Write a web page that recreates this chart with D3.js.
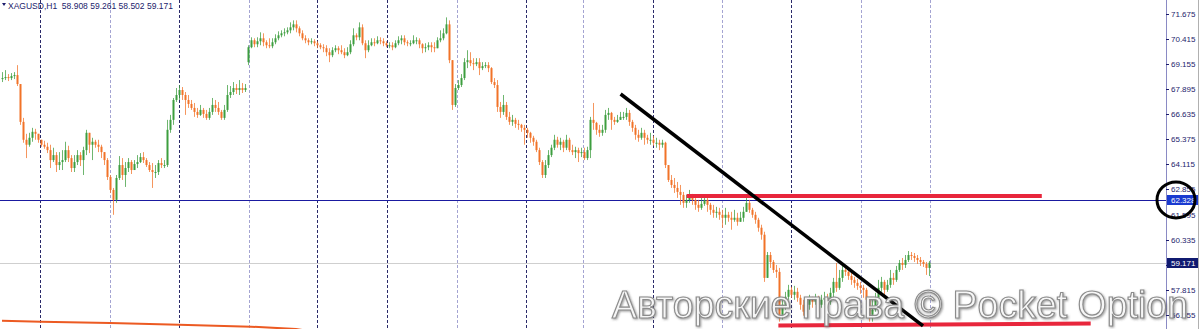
<!DOCTYPE html>
<html lang="en">
<head>
<meta charset="UTF-8">
<title>XAGUSD H1</title>
<script src="https://d3js.org/d3.v7.min.js"></script>
<style>
    body { margin: 0; padding: 0; background: #fff; }
    svg { display: block; }
    .axis-label { font-family: 'Liberation Sans', Arial, sans-serif; font-size: 8px; fill: #1c1c6c; }
</style>
</head>
<body>
<svg id="chart" width="1200" height="329"></svg>
<script>
// OHLC (open = previous close unless overridden)
const closeP = [
    68.45,68.50,68.45,68.55,68.60,68.15,66.25,65.35,65.10,65.45,
    65.75,65.65,65.35,65.10,65.00,64.83,64.33,64.58,64.08,64.23,
    64.33,64.83,64.43,63.93,64.23,64.58,64.33,64.83,65.70,65.10,
    65.25,65.10,65.00,64.73,64.33,63.48,62.83,62.33,63.43,64.08,
    63.58,63.93,64.23,63.83,64.13,64.23,64.48,64.33,64.08,63.83,
    63.73,63.73,64.18,64.08,64.08,65.85,66.35,67.35,67.60,67.85,
    67.60,67.35,67.15,66.95,66.75,66.60,66.85,66.65,66.45,66.75,
    67.10,66.95,66.75,66.45,66.85,67.60,67.75,67.95,67.85,67.95,
    67.85,67.95,70.00,70.35,70.15,70.30,70.45,70.25,70.10,70.05,
    70.25,70.45,70.60,70.70,70.75,70.85,71.00,71.15,70.95,70.70,
    70.45,70.35,70.25,70.30,70.20,70.10,70.00,69.95,69.75,69.60,
    69.85,69.95,69.85,69.75,69.60,69.75,70.15,70.60,70.50,71.00,
    70.20,69.85,70.10,70.25,70.20,70.35,70.30,70.20,70.10,70.10,
    70.00,70.20,70.35,70.45,70.25,70.20,70.20,70.35,70.35,70.15,
    69.95,70.00,70.10,70.00,69.95,70.35,70.45,70.70,71.15,69.35,
    67.10,67.95,68.10,68.45,69.25,69.35,69.20,69.15,69.25,68.95,
    69.05,69.10,68.95,68.25,68.10,67.00,66.75,67.10,66.50,66.25,
    66.35,66.15,66.10,65.95,65.85,65.70,65.45,65.25,64.83,64.23,
    63.58,64.08,64.58,64.95,65.35,65.10,65.25,64.95,65.35,64.83,
    64.73,64.83,64.68,64.73,64.43,64.83,66.35,66.20,65.85,65.70,
    65.85,66.60,66.70,66.35,66.25,66.35,66.50,66.50,66.70,66.25,
    65.95,65.60,65.45,65.70,65.45,65.35,65.35,65.20,65.20,65.10,
    65.20,64.08,63.33,63.08,62.93,62.73,62.58,62.18,62.33,62.48,
    62.33,62.08,61.93,62.13,62.33,62.08,61.83,61.68,61.73,61.58,
    61.43,61.58,61.43,61.33,61.43,61.23,61.43,61.73,62.18,61.83,
    61.58,61.33,60.93,60.58,58.41,59.56,59.21,58.81,58.71,56.56,
    57.06,57.46,57.81,57.56,57.71,57.41,57.06,56.71,57.06,57.31,
    57.21,57.41,57.06,57.31,57.41,57.21,57.66,58.21,57.91,58.41,
    58.81,58.71,58.51,58.31,58.16,58.01,57.91,57.81,57.31,56.56,
    56.81,57.41,57.91,58.21,57.81,58.06,58.41,58.31,58.81,59.16,
    59.06,59.31,59.56,59.51,59.41,59.31,59.21,59.11,58.91,59.171
];
const highP = [
    68.75,68.85,68.65,68.70,68.75,69.10,68.15,66.45,65.65,65.70,
    65.95,65.90,65.60,65.35,65.30,65.20,65.10,64.95,64.73,64.73,
    64.83,65.25,65.05,64.58,64.58,64.83,64.73,65.00,65.85,65.70,
    65.45,65.35,65.35,65.10,64.73,64.43,63.58,62.93,63.58,64.53,
    64.43,64.23,64.43,64.33,64.33,64.58,64.68,64.73,64.43,64.23,
    64.18,64.08,64.33,64.43,64.33,66.35,66.60,67.45,67.95,68.10,
    68.00,67.75,67.60,67.35,67.20,66.95,67.10,66.95,66.85,66.95,
    67.45,67.35,67.25,66.85,67.10,68.10,68.05,68.25,68.15,68.35,
    68.20,68.15,70.10,70.50,70.45,70.50,70.75,70.70,70.35,70.45,
    70.45,70.65,70.80,70.85,70.95,71.00,71.25,71.35,71.35,71.05,
    70.85,70.60,70.45,70.45,70.40,70.30,70.20,70.15,70.10,69.95,
    70.00,70.10,70.05,70.10,69.95,70.00,70.35,70.95,70.70,71.25,
    71.15,70.35,70.35,70.45,70.45,70.55,70.50,70.45,70.30,70.25,
    70.25,70.35,70.55,70.60,70.60,70.35,70.35,70.60,70.50,70.45,
    70.20,70.20,70.25,70.25,70.25,70.50,70.85,70.95,71.50,71.35,
    69.35,68.15,68.35,68.65,69.45,69.85,69.75,69.45,69.45,69.45,
    69.25,69.25,69.25,69.00,68.45,68.35,67.25,67.60,67.25,66.75,
    66.60,66.45,66.35,66.15,66.10,65.95,65.75,65.55,65.35,64.95,
    64.33,64.33,64.83,65.10,65.60,65.50,65.45,65.35,65.60,65.45,
    65.10,65.00,64.95,64.95,64.95,65.00,66.50,67.20,66.25,66.10,
    66.10,66.85,66.95,66.75,66.50,66.60,66.75,66.75,66.95,66.85,
    66.35,66.10,65.85,65.95,65.85,65.60,65.70,65.55,65.45,65.35,
    65.35,65.25,64.08,63.58,63.43,63.23,63.08,62.73,62.58,62.83,
    62.63,62.48,62.33,62.43,62.58,62.43,62.18,62.08,61.98,61.93,
    61.83,61.93,61.73,61.73,61.83,61.68,61.73,61.98,62.53,62.33,
    61.93,61.73,61.43,61.08,60.73,59.71,59.71,59.31,59.06,58.91,
    57.31,57.71,58.06,57.96,58.01,57.91,57.56,57.31,57.21,57.56,
    57.46,57.61,57.51,57.56,57.71,57.61,57.91,58.41,59.16,58.81,
    59.06,58.96,58.81,58.66,58.46,58.36,58.21,58.06,57.91,57.41,
    57.31,57.66,58.31,58.46,58.31,58.31,58.81,58.66,59.01,59.31,
    59.41,59.56,59.76,59.71,59.66,59.56,59.46,59.31,59.21,59.261
];
const lowP = [
    68.25,68.35,68.30,68.35,68.40,68.05,66.10,65.20,64.43,65.00,
    65.25,65.35,65.20,65.00,64.90,64.68,63.93,64.23,63.73,63.83,
    63.83,64.23,64.23,63.73,63.73,64.08,64.03,63.58,64.58,64.68,
    64.33,64.95,64.73,64.43,64.08,63.33,62.68,61.58,62.18,63.33,
    63.33,62.98,63.73,63.63,63.83,63.93,64.18,64.18,63.98,63.73,
    62.93,63.43,63.58,63.93,63.93,63.98,65.70,66.10,67.25,67.35,
    67.35,66.60,66.95,66.85,66.50,66.45,66.55,66.45,66.35,66.35,
    66.60,66.75,66.60,66.35,66.35,66.75,67.45,67.60,67.65,67.60,
    67.70,67.75,69.10,69.95,70.00,70.00,70.10,70.05,69.95,69.95,
    69.95,70.15,70.35,70.50,70.55,70.65,70.70,70.85,70.75,70.55,
    70.35,70.20,70.10,70.15,70.05,69.95,69.90,69.75,69.55,69.25,
    69.50,69.75,69.65,69.65,69.45,69.55,69.65,70.05,70.35,70.35,
    70.10,69.45,69.75,70.05,70.05,70.15,70.15,70.05,70.00,69.95,
    69.85,69.95,70.10,70.15,70.10,70.05,70.05,70.15,70.15,69.95,
    69.70,69.75,69.85,69.75,69.75,69.95,70.25,70.35,70.65,69.20,
    66.85,67.00,67.85,68.00,68.35,68.95,69.05,68.85,69.05,68.60,
    68.85,68.95,68.75,68.15,67.95,66.75,66.45,66.60,66.35,66.10,
    66.05,65.95,65.85,65.75,65.10,65.45,65.20,65.05,64.73,64.08,
    63.43,63.43,63.93,64.48,64.83,64.95,64.83,64.73,64.83,64.73,
    64.58,64.43,64.23,64.48,64.33,64.33,64.43,65.85,65.60,65.50,
    65.55,65.70,66.35,65.85,66.10,66.20,66.35,66.35,66.35,66.05,
    65.75,65.35,65.25,65.35,65.10,65.15,65.10,65.05,64.95,64.83,
    64.95,63.93,63.23,62.93,62.68,62.43,62.08,61.93,61.93,62.18,
    62.08,61.83,61.73,61.83,62.03,61.73,61.58,61.43,61.43,61.33,
    60.93,61.08,61.23,60.83,61.23,61.03,61.23,61.23,61.73,61.68,
    61.43,61.13,60.73,60.33,58.21,58.56,58.91,58.66,58.41,56.21,
    56.31,56.81,57.31,57.41,57.31,57.21,56.81,56.51,56.56,56.81,
    56.91,57.06,56.71,56.91,57.06,56.91,57.06,57.41,57.71,57.81,
    58.21,58.51,58.31,58.06,57.91,57.81,57.61,57.41,57.06,56.21,
    56.21,56.71,57.31,57.71,57.56,57.71,57.91,58.06,58.21,58.71,
    58.81,58.91,59.21,59.31,59.21,59.11,59.01,58.96,58.56,58.502
];
const openOverride = [[0, 68.40], [82, 69.25]]; // first bar and Monday gap

const priceTicks = [71.675, 70.415, 69.155, 67.895, 66.635, 65.375, 64.115, 62.855, 61.595, 60.335, 59.075, 57.815, 56.555];
const gridIdx = [12.6, 35.9, 58.9, 82.2, 105.1, 128.4, 151.7, 174.6, 193.6, 216.9, 240.1, 263.1, 286.4, 309.3];
const gridDark = [1, 0, 1, 0, 1, 1, 0, 1, 0, 1, 0, 1, 0, 0];

// slow moving average, only its tail is visible at the bottom
const maIdx = [0, 13, 36, 59, 83, 98, 104];
const maVal = [56.26, 56.21, 56.14, 56.06, 55.96, 55.84, 55.70];

const headerText = "XAGUSD,H1  58.908 59.261 58.502 59.171";
const levelPrice = 62.328;
const bidPrice = 59.171;

// hand-drawn annotations (bar index, price)
const trendIdx = [206.2, 307.0], trendPrice = [67.65, 56.0];
const resistIdx = [228.2, 346.6], resistPrice = [62.53, 62.53];
const supportIdx = [258.8, 362.9], supportPrice = [56.02, 56.12];

const W = 1200, H = 329, plotRight = 1166;
const svg = d3.select("#chart");

const x = d3.scaleLinear().domain([0, closeP.length - 1]).range([2, 929]);
const y = d3.scaleLinear().domain([56.555, 71.675]).range([314.8, 13.9]);

const bars = closeP.map((c, i) => {
    let o = i > 0 ? closeP[i - 1] : c;
    openOverride.forEach(([k, v]) => { if (k === i) o = v; });
    return { i, o, c, h: Math.max(highP[i], o, c), l: Math.min(lowP[i], o, c) };
});

svg.append("defs").append("clipPath").attr("id", "plot")
    .append("rect").attr("x", 0).attr("y", 0).attr("width", plotRight).attr("height", H);

const plot = svg.append("g").attr("clip-path", "url(#plot)");

// vertical period separators
plot.selectAll(".vgrid").data(gridIdx).join("line")
    .attr("x1", d => Math.round(x(d)) + 0.5).attr("x2", d => Math.round(x(d)) + 0.5)
    .attr("y1", 0).attr("y2", H)
    .attr("stroke", (d, k) => gridDark[k] ? "#2a2a6a" : "#a4a4d2")
    .attr("stroke-width", 1)
    .attr("stroke-dasharray", "3,2");

// bid line and level line
plot.append("line").attr("x1", 0).attr("x2", plotRight)
    .attr("y1", Math.round(y(bidPrice)) + 0.5).attr("y2", Math.round(y(bidPrice)) + 0.5)
    .attr("stroke", "#cfcfcf");
plot.append("line").attr("x1", 0).attr("x2", plotRight)
    .attr("y1", Math.round(y(levelPrice)) + 0.5).attr("y2", Math.round(y(levelPrice)) + 0.5)
    .attr("stroke", "#1a1aa0");

// moving average
plot.append("path").datum(maIdx.map((d, k) => [d, maVal[k]]))
    .attr("fill", "none").attr("stroke", "#ec5a22").attr("stroke-width", 2)
    .attr("d", d3.line().x(d => x(d[0])).y(d => y(d[1])));

// candles
const bull = "#3d9e3f", bear = "#f17328";
const cg = plot.append("g");
cg.selectAll(".wick").data(bars).join("line")
    .attr("x1", d => Math.round(x(d.i)) + 0.5).attr("x2", d => Math.round(x(d.i)) + 0.5)
    .attr("y1", d => y(d.h)).attr("y2", d => y(d.l))
    .attr("stroke", d => d.c >= d.o ? bull : bear)
    .attr("stroke-opacity", 0.75);
cg.selectAll(".body").data(bars).join("rect")
    .attr("x", d => Math.round(x(d.i)) - 0.5)
    .attr("width", 2)
    .attr("y", d => y(Math.max(d.o, d.c)))
    .attr("height", d => Math.max(1, Math.abs(y(d.o) - y(d.c))))
    .attr("fill", d => d.c >= d.o ? bull : bear);

// annotations
const seg = (xi, pi) => d3.line()(xi.map((d, k) => [x(d), y(pi[k])]));
svg.append("path").attr("d", seg(resistIdx, resistPrice))
    .attr("stroke", "#e8263c").attr("stroke-width", 4).attr("fill", "none");
svg.append("path").attr("d", seg(supportIdx, supportPrice))
    .attr("stroke", "#e8263c").attr("stroke-width", 4).attr("fill", "none");
svg.append("path").attr("d", seg(trendIdx, trendPrice))
    .attr("stroke", "#000").attr("stroke-width", 3.5).attr("fill", "none");

// header
svg.append("path").attr("d", "M2,3 L6,3 L4,6 Z").attr("fill", "#1c1c6c");
svg.append("text").attr("class", "axis-label")
    .attr("x", 8).attr("y", 9).style("font-size", "8.5px")
    .attr("xml:space", "preserve").text(headerText);

// price axis
svg.append("line").attr("x1", plotRight + 0.5).attr("x2", plotRight + 0.5)
    .attr("y1", 0).attr("y2", H).attr("stroke", "#8a8ac4");
svg.append("line").attr("x1", W - 1.5).attr("x2", W - 1.5)
    .attr("y1", 0).attr("y2", H).attr("stroke", "#b0b0b0");
const ax = svg.append("g");
ax.selectAll("line").data(priceTicks).join("line")
    .attr("x1", plotRight).attr("x2", plotRight + 3)
    .attr("y1", d => Math.round(y(d)) + 0.5).attr("y2", d => Math.round(y(d)) + 0.5)
    .attr("stroke", "#1c1c6c");
ax.selectAll("text").data(priceTicks).join("text")
    .attr("class", "axis-label")
    .attr("x", plotRight + 5).attr("y", d => y(d) + 3)
    .text(d => d.toFixed(3));

function priceTag(p, fill) {
    const yy = Math.round(y(p));
    svg.append("rect").attr("x", plotRight + 1).attr("y", yy - 5)
        .attr("width", 31).attr("height", 10).attr("fill", fill);
    svg.append("text").attr("class", "axis-label").style("fill", "#fff")
        .attr("x", plotRight + 5).attr("y", yy + 3).text(p.toFixed(3));
}
priceTag(levelPrice, "#1a3ad0");
priceTag(bidPrice, "#101a70");

// circle drawn round the level tag
svg.append("ellipse")
    .attr("cx", plotRight + 10).attr("cy", y(levelPrice))
    .attr("rx", 19).attr("ry", 18)
    .attr("fill", "none").attr("stroke", "#000").attr("stroke-width", 3);

// watermark
const f = svg.select("defs").append("filter").attr("id", "wm")
    .attr("x", "-5%").attr("y", "-20%").attr("width", "110%").attr("height", "140%");
f.append("feDropShadow").attr("dx", 1).attr("dy", 1).attr("stdDeviation", 1.2)
    .attr("flood-color", "#555").attr("flood-opacity", 0.6);
svg.append("text")
    .attr("x", 612).attr("y", 318)
    .attr("textLength", 576).attr("lengthAdjust", "spacingAndGlyphs")
    .style("font-family", "'Liberation Sans', Arial, sans-serif")
    .style("font-size", "39px")
    .attr("fill", "#fbfbfb").attr("fill-opacity", 0.9)
    .attr("stroke", "#8c8c8c").attr("stroke-width", 1.2)
    .attr("filter", "url(#wm)")
    .text("Авторские права © Pocket Option");
</script>
</body>
</html>
